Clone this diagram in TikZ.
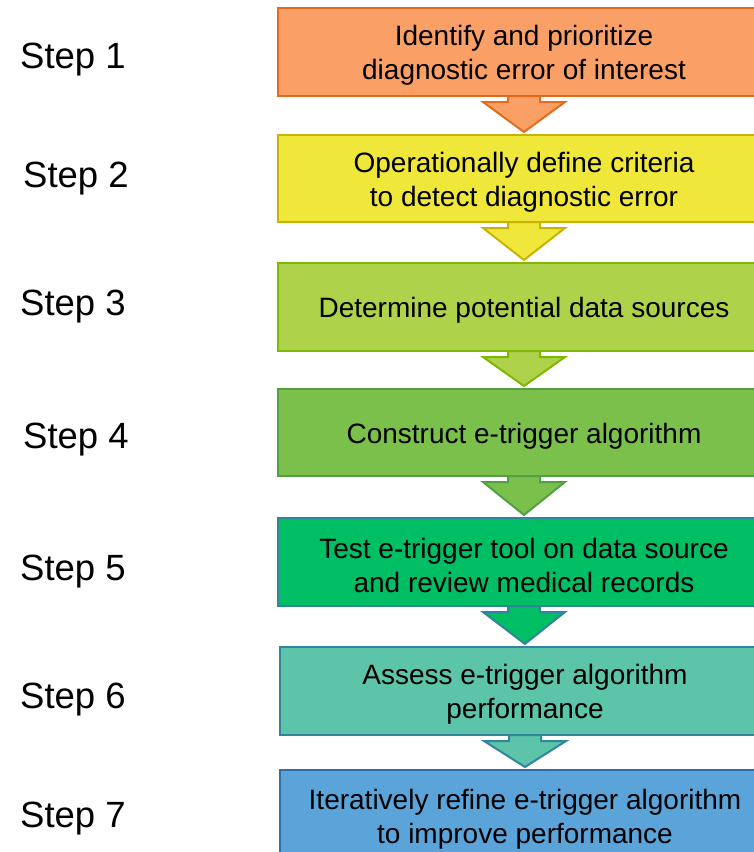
\documentclass[tikz,border=0pt]{standalone}
\usepackage{fontspec}
\setmainfont{Liberation Sans}
\usetikzlibrary{calc}

% fill / border colours of the seven stages
\definecolor{f1}{RGB}{250,160,102}\definecolor{d1}{RGB}{226,107,30}
\definecolor{f2}{RGB}{239,231,58}\definecolor{d2}{RGB}{201,178,0}
\definecolor{f3}{RGB}{174,211,75}\definecolor{d3}{RGB}{126,185,0}
\definecolor{f4}{RGB}{123,192,74}\definecolor{d4}{RGB}{82,160,70}
\definecolor{f5}{RGB}{0,190,100}\definecolor{d5}{RGB}{49,132,155}
\definecolor{f6}{RGB}{92,196,168}\definecolor{d6}{RGB}{49,133,156}
\definecolor{f7}{RGB}{91,164,217}\definecolor{d7}{RGB}{46,110,170}

% strut that lowers the text block a little inside its box
\newcommand{\lowstrut}{\rule{0pt}{27pt}}

\tikzset{
  stagebox/.style={rectangle, line width=2pt, minimum width=492pt,
    align=center, inner sep=0pt, font=\fontsize{28}{34}\selectfont},
  steplabel/.style={anchor=base west, inner sep=0pt,
    font=\fontsize{36.5}{40}\selectfont},
  blockarrow/.style={line width=2pt, line join=miter},
}

% block arrow from the bottom of #1 to the top of #2
\newcommand{\stagearrow}[4]{%
  \draw[blockarrow, fill=#3, draw=#4]
    ($(#1.south)+(-16,-1)$) -- ($(#1.south)+(-16,5)$) -- ($(#1.south)+(-41,5)$)
    -- ($(#2.north)+(0,-2)$)
    -- ($(#1.south)+(41,5)$) -- ($(#1.south)+(16,5)$) -- ($(#1.south)+(16,-1)$) -- cycle;}

\begin{document}
\begin{tikzpicture}[x=1pt, y=-1pt]
\useasboundingbox (0,0) rectangle (754,852);
\clip (0,0) rectangle (754,852);

% stages
\node[stagebox, fill=f1, draw=d1, minimum height=88pt] (b1) at (524,52)
  {\lowstrut Identify and prioritize\\diagnostic error of interest};
\node[stagebox, fill=f2, draw=d2, minimum height=87pt] (b2) at (524,178.5)
  {\lowstrut Operationally define criteria\\to detect diagnostic error};
\node[stagebox, fill=f3, draw=d3, minimum height=88pt] (b3) at (524,307)
  {\lowstrut Determine potential data sources};
\node[stagebox, fill=f4, draw=d4, minimum height=87pt] (b4) at (524,432.5)
  {\lowstrut Construct e-trigger algorithm};
\node[stagebox, fill=f5, draw=d5, minimum height=88pt] (b5) at (524,562)
  {\lowstrut Test e-trigger tool on data source\\and review medical records};
\node[stagebox, fill=f6, draw=d6, minimum height=88pt, minimum width=490pt] (b6) at (525,691)
  {\lowstrut Assess e-trigger algorithm\\performance};
\node[stagebox, fill=f7, draw=d7, minimum height=92pt, minimum width=490pt] (b7) at (525,816)
  {\lowstrut Iteratively refine e-trigger algorithm\\to improve performance};

% connecting block arrows
\stagearrow{b1}{b2}{f1}{d1}
\stagearrow{b2}{b3}{f2}{d2}
\stagearrow{b3}{b4}{f3}{d3}
\stagearrow{b4}{b5}{f4}{d4}
\stagearrow{b5}{b6}{f5}{d5}
\stagearrow{b6}{b7}{f6}{d6}

% step labels
\node[steplabel] (s1) at (20,68)  {Step 1};
\node[steplabel] (s2) at (23,187) {Step 2};
\node[steplabel] (s3) at (20,315) {Step 3};
\node[steplabel] (s4) at (23,448) {Step 4};
\node[steplabel] (s5) at (20,580) {Step 5};
\node[steplabel] (s6) at (20,708) {Step 6};
\node[steplabel] (s7) at (20,827) {Step 7};
\end{tikzpicture}
\end{document}
